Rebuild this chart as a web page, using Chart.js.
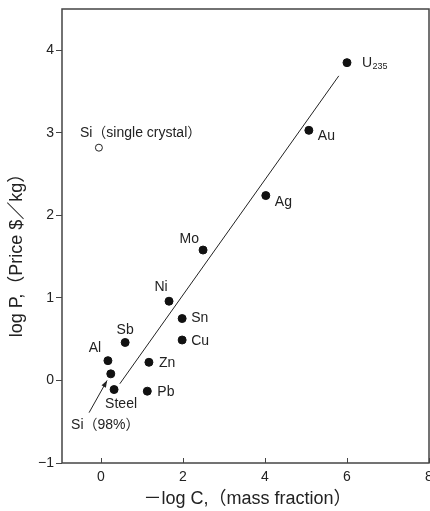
<!DOCTYPE html>
<html>
<head>
<meta charset="utf-8">
<script src="https://cdn.jsdelivr.net/npm/chart.js@4"></script>
<style>
  html, body { margin: 0; padding: 0; background: #fff; overflow: hidden; }
  #wrap { width: 430px; height: 511px; }
</style>
</head>
<body>
<div id="wrap"><canvas id="chart"></canvas></div>
<script>
// filled points: metals
const metalNames = ["U235", "Au", "Ag", "Mo", "Ni", "Sn", "Cu", "Sb", "Al", "Si98", "Zn", "Steel", "Pb"];
const metalX = [6.0, 5.07, 4.02, 2.49, 1.66, 1.98, 1.98, 0.59, 0.17, 0.24, 1.17, 0.32, 1.13];
const metalY = [3.85, 3.03, 2.24, 1.58, 0.96, 0.75, 0.49, 0.46, 0.24, 0.08, 0.22, -0.11, -0.13];

// open point: single crystal Si
const crystalX = [-0.05];
const crystalY = [2.82];

// trend line and arrow pointing at Si (98%)
const fitX = [0.46, 5.8];
const fitY = [-0.04, 3.69];
const arrowX = [-0.29, 0.15];
const arrowY = [-0.39, 0.0];

const xTicks = [0, 2, 4, 6, 8];
const yTicks = [-1, 0, 1, 2, 3, 4];

const FONT = "'Liberation Sans', 'Noto Sans CJK JP', sans-serif";

// label placement: [dx, dy, align] relative to the point
const labelPlace = {
  U235: [15, 0, "left"],
  Au: [9, 6, "left"],
  Ag: [9, 7, "left"],
  Mo: [-4, -11, "right"],
  Ni: [-8, -14, "center"],
  Sn: [9, 0, "left"],
  Cu: [9, 1, "left"],
  Sb: [0, -12, "center"],
  Al: [-13, -13, "center"],
  Zn: [10, 1, "left"],
  Steel: [7, 15, "center"],
  Pb: [10, 1, "left"]
};

const toPts = (xs, ys) => xs.map((x, i) => ({ x: x, y: ys[i] }));

const annotate = {
  id: "annotate",
  afterDatasetsDraw(chart) {
    const ctx = chart.ctx;
    const xs = chart.scales.x, ys = chart.scales.y;
    const a = chart.chartArea;
    ctx.save();

    // frame
    ctx.strokeStyle = "#444";
    ctx.lineWidth = 1.5;
    ctx.strokeRect(a.left, a.top, a.right - a.left, a.bottom - a.top);

    // inward x ticks
    ctx.lineWidth = 1;
    xTicks.forEach(v => {
      const px = Math.round(xs.getPixelForValue(v)) + 0.5;
      ctx.beginPath();
      ctx.moveTo(px, a.bottom);
      ctx.lineTo(px, a.bottom - 5);
      ctx.stroke();
    });

    // arrow head
    const x0 = xs.getPixelForValue(arrowX[0]), y0 = ys.getPixelForValue(arrowY[0]);
    const x1 = xs.getPixelForValue(arrowX[1]), y1 = ys.getPixelForValue(arrowY[1]);
    const ang = Math.atan2(y1 - y0, x1 - x0);
    ctx.fillStyle = "#222";
    ctx.beginPath();
    ctx.moveTo(x1, y1);
    ctx.lineTo(x1 - 7 * Math.cos(ang) + 2.5 * Math.sin(ang), y1 - 7 * Math.sin(ang) - 2.5 * Math.cos(ang));
    ctx.lineTo(x1 - 7 * Math.cos(ang) - 2.5 * Math.sin(ang), y1 - 7 * Math.sin(ang) + 2.5 * Math.cos(ang));
    ctx.closePath();
    ctx.fill();

    // point labels
    ctx.fillStyle = "#222";
    ctx.textBaseline = "middle";
    ctx.font = "14px " + FONT;
    metalNames.forEach((name, i) => {
      const p = labelPlace[name];
      if (!p) return;
      const px = xs.getPixelForValue(metalX[i]) + p[0];
      const py = ys.getPixelForValue(metalY[i]) + p[1];
      ctx.textAlign = p[2];
      if (name === "U235") {
        ctx.fillText("U", px, py);
        const w = ctx.measureText("U").width;
        ctx.font = "9px " + FONT;
        ctx.fillText("235", px + w + 0.5, py + 4);
        ctx.font = "14px " + FONT;
      } else {
        ctx.fillText(name, px, py);
      }
    });

    ctx.textAlign = "left";
    ctx.fillText("Si（98%）", x0 - 18, y0 + 12);
    ctx.fillText("Si（single crystal）",
      xs.getPixelForValue(crystalX[0]) - 19, ys.getPixelForValue(crystalY[0]) - 15);

    // axis titles
    ctx.font = "18px " + FONT;
    ctx.textAlign = "center";
    ctx.fillText("－log C,（mass fraction）", (a.left + a.right) / 2 + 2, 499);
    ctx.translate(17, 251);
    ctx.rotate(-Math.PI / 2);
    ctx.fillText("log P,（Price $／kg）", 0, 0);
    ctx.restore();
  }
};

new Chart(document.getElementById("chart"), {
  type: "scatter",
  data: {
    datasets: [
      {
        data: toPts(fitX, fitY),
        showLine: true,
        borderColor: "#222",
        borderWidth: 1,
        pointRadius: 0
      },
      {
        data: toPts(arrowX, arrowY),
        showLine: true,
        borderColor: "#222",
        borderWidth: 1,
        pointRadius: 0
      },
      {
        data: toPts(metalX, metalY),
        backgroundColor: "#111",
        borderColor: "#111",
        pointRadius: 4,
        pointHoverRadius: 4
      },
      {
        data: toPts(crystalX, crystalY),
        backgroundColor: "#fff",
        borderColor: "#222",
        borderWidth: 1,
        pointRadius: 3.5
      }
    ]
  },
  options: {
    responsive: true,
    maintainAspectRatio: false,
    animation: false,
    events: [],
    layout: { autoPadding: false, padding: { top: 9, right: 1, left: 0, bottom: 0 } },
    plugins: {
      legend: { display: false },
      tooltip: { enabled: false }
    },
    scales: {
      x: {
        min: -0.95,
        max: 8,
        afterBuildTicks: s => { s.ticks = xTicks.map(v => ({ value: v })); },
        afterFit: s => { s.height = 48; s.paddingLeft = 0; s.paddingRight = 0; },
        grid: { display: false, drawTicks: false },
        border: { display: false },
        ticks: {
          color: "#222",
          padding: 6,
          maxRotation: 0,
          font: { family: FONT, size: 14 }
        }
      },
      y: {
        min: -1,
        max: 4.5,
        afterBuildTicks: s => { s.ticks = yTicks.map(v => ({ value: v })); },
        afterFit: s => { s.width = 62; s.paddingTop = 0; s.paddingBottom = 0; },
        grid: { drawOnChartArea: false, tickLength: 6, color: "#444" },
        border: { display: false },
        ticks: {
          color: "#222",
          padding: 2,
          font: { family: FONT, size: 14 },
          callback: v => (v < 0 ? "−" + Math.abs(v) : String(v))
        }
      }
    }
  },
  plugins: [annotate]
});
</script>
</body>
</html>
